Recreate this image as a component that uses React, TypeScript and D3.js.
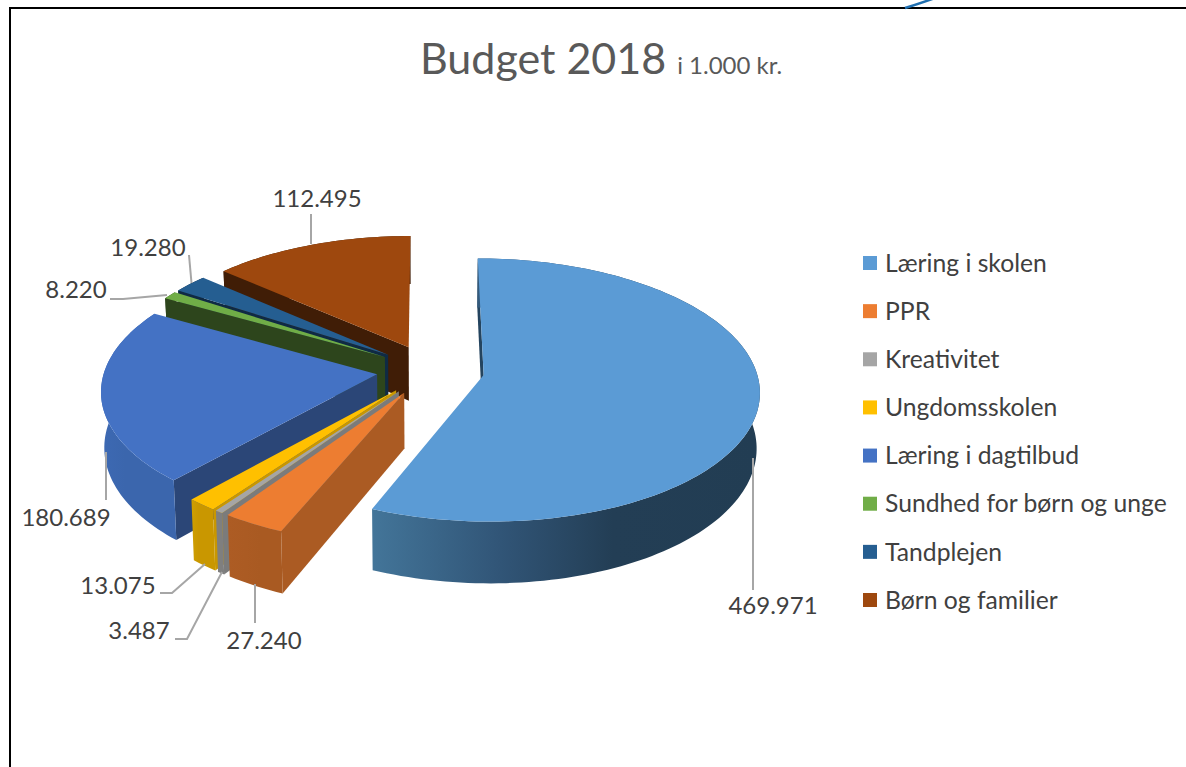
import React from "react";
import * as d3 from "d3";

// values in 1.000 kr.
const categories = [
  "Læring i skolen",
  "PPR",
  "Kreativitet",
  "Ungdomsskolen",
  "Læring i dagtilbud",
  "Sundhed for børn og unge",
  "Tandplejen",
  "Børn og familier",
];
const values = [469971, 27240, 3487, 13075, 180689, 8220, 19280, 112495];
const valueLabels = ["469.971", "27.240", "3.487", "13.075", "180.689", "8.220", "19.280", "112.495"];

// styles
const topColors = ["#5b9bd5", "#ed7d31", "#a5a5a5", "#ffc000", "#4472c4", "#70ad47", "#255e91", "#9e480e"];
const wallColors = ["#24445f", "#ab5b23", "#7b7b7b", "#c99700", "#2b4677", "#2d451c", "#0f2a44", "#401d06"];
const stopOffsets = [0, 0.33, 0.62, 1];
const outerStops = [
  ["#437599", "#315577", "#233e55", "#223d53"],
  ["#ad5c24", "#ab5b23", "#a95a22", "#a95a22"],
  ["#7f7f7f", "#7f7f7f", "#7f7f7f", "#7f7f7f"],
  ["#cf9f00", "#c99700", "#c99700", "#c99700"],
  ["#3d69b3", "#3b66ad", "#3b66ad", "#3b66ad"],
  ["#2d451c", "#2d451c", "#2d451c", "#2d451c"],
  ["#0f2a44", "#0f2a44", "#0f2a44", "#0f2a44"],
  ["#401d06", "#401d06", "#401d06", "#401d06"],
];
// back to front
const drawOrder = [7, 6, 5, 4, 3, 2, 1, 0];

// label placement: [text x, text y, leader points]
const labelLayout: [number, number, [number, number][]][] = [
  [773, 606, [[753, 458], [753, 590]]],
  [264, 641, [[255, 584], [255, 623]]],
  [139, 631, [[175, 639], [187, 639], [222, 572]]],
  [118, 586, [[160, 593], [172, 593], [205, 564]]],
  [66, 518, [[106, 452], [106, 500]]],
  [76, 290, [[110, 299], [123, 299], [167, 295]]],
  [148, 248, [[189, 255], [191.5, 283]]],
  [317, 199, [[311, 214], [311, 244]]],
];

const width = 1186;
const height = 767;

// pie projection
const cx = 430.5;
const cy = 370;
const radiusX = 272.5;
const radiusY = 128.7;
const perspective = 0.1137;
const depth = 54.5;
const explode = 0.198;
const startDeg = -0.1;

const project = (u: number, v: number, bottom = false): [number, number] => {
  const w = 1 + perspective * v;
  const sx = bottom ? 0.99 : 1;
  return [cx + (u * radiusX * sx) / w, cy - (v * radiusY) / w + (bottom ? depth / w : 0)];
};

const pieGen = d3
  .pie<number>()
  .sort(null)
  .startAngle((startDeg * Math.PI) / 180)
  .endAngle(((startDeg + 360) * Math.PI) / 180);

const arcs = pieGen(values);
const line = d3.line();

const sliceShapes = arcs.map((a) => {
  const mid = (a.startAngle + a.endAngle) / 2;
  const ou = explode * Math.sin(mid);
  const ov = explode * Math.cos(mid);
  const steps = Math.max(4, Math.ceil((a.endAngle - a.startAngle) * 40));
  const angles = d3.range(steps + 1).map((i) => a.startAngle + ((a.endAngle - a.startAngle) * i) / steps);
  const rim = angles.map((t) => project(ou + Math.sin(t), ov + Math.cos(t)));
  const rimBottom = angles.map((t) => project(ou + Math.sin(t), ov + Math.cos(t), true));
  const apex = project(ou, ov);
  const apexBottom = project(ou, ov, true);
  const xs = rim.map((p) => p[0]);
  return {
    top: line([apex, ...rim])! + "Z",
    startWall: line([apex, rim[0], rimBottom[0], apexBottom])! + "Z",
    outerWall: line([...rim, ...rimBottom.slice().reverse()])! + "Z",
    x0: d3.min(xs)!,
    x1: d3.max(xs)!,
  };
});

const legendY = d3
  .scalePoint<string>()
  .domain(categories)
  .range([263, 600]);

const textColor = "#404040";
const font = "Lato, 'Open Sans', sans-serif";

export default function App() {
  return (
    <svg
      width={width}
      height={height}
      style={{ position: "absolute", left: 0, top: 0, display: "block", background: "#fff" }}
      fontFamily={font}
    >
      <defs>
        {sliceShapes.map((s, i) => (
          <linearGradient key={i} id={`wall${i}`} gradientUnits="userSpaceOnUse" x1={s.x0} x2={s.x1} y1={0} y2={0}>
            {outerStops[i].map((c, j) => (
              <stop key={j} offset={stopOffsets[j]} stopColor={c} />
            ))}
          </linearGradient>
        ))}
      </defs>

      {/* frame */}
      <path d="M10,767V8H1186" fill="none" stroke="#000" strokeWidth={2} />
      <path d="M905,8Q928,1 951,-8" fill="none" stroke="#1f6fb0" strokeWidth={2.5} />

      {/* title */}
      <text x={420} y={74} fill="#595959" fontSize={43}>
        Budget 2018
        <tspan dx={11} fontSize={24}>
          i 1.000 kr.
        </tspan>
      </text>

      {/* slices */}
      {drawOrder.map((i) => (
        <g key={i}>
          <path d={sliceShapes[i].startWall} fill={wallColors[i]} />
          <path d={sliceShapes[i].outerWall} fill={`url(#wall${i})`} />
          <path d={sliceShapes[i].top} fill={topColors[i]} />
        </g>
      ))}

      {/* leaders and labels */}
      {labelLayout.map(([x, y, pts], i) => (
        <g key={i}>
          <path d={line(pts)!} fill="none" stroke="#a6a6a6" strokeWidth={2} />
          <text x={x} y={y} dy="0.35em" textAnchor="middle" fontSize={24} fill={textColor}>
            {valueLabels[i]}
          </text>
        </g>
      ))}

      {/* legend */}
      {categories.map((c, i) => (
        <g key={c} transform={`translate(863,${legendY(c)})`}>
          <rect x={0} y={-7} width={14} height={14} fill={topColors[i]} />
          <text x={22} dy="0.35em" fontSize={24.7} fill={textColor}>
            {c}
          </text>
        </g>
      ))}
    </svg>
  );
}
